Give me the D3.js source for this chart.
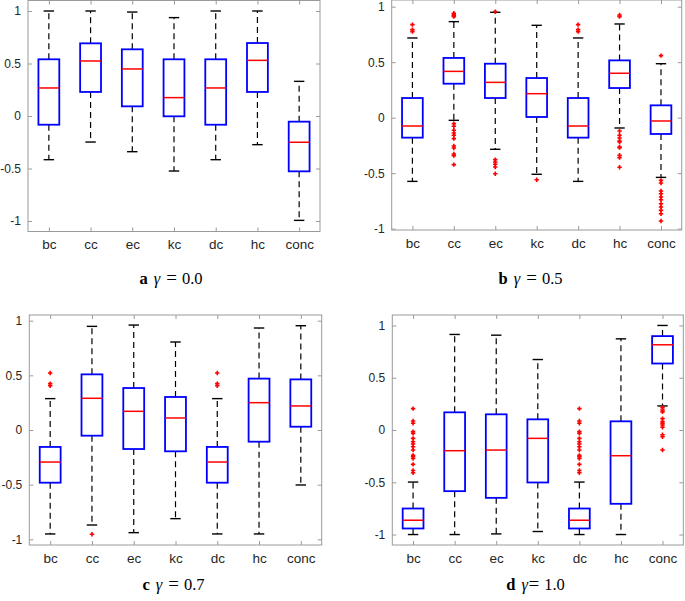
<!DOCTYPE html>
<html><head><meta charset="utf-8">
<script src="https://cdn.jsdelivr.net/npm/d3@7"></script>
<style>html,body{margin:0;padding:0;background:#fff;}svg{display:block;}</style>
</head><body>
<svg id="c" width="685" height="601"></svg>
<script>
const categories = ["bc","cc","ec","kc","dc","hc","conc"];
const yTicks = [-1, -0.5, 0, 0.5, 1];
const yTickLabels = ["-1", "-0.5", "0", "0.5", "1"];

// [lowWhisker, q1, median, q3, highWhisker] per category
const statsA = [[-0.416,-0.083,0.267,0.54,1.0],[-0.248,0.229,0.524,0.692,1.0],[-0.34,0.092,0.448,0.635,0.99],[-0.524,-0.003,0.175,0.54,0.937],[-0.416,-0.083,0.267,0.54,1.0],[-0.273,0.229,0.53,0.695,1.0],[-0.994,-0.527,-0.25,-0.054,0.33]];
const outliersA = [[],[],[],[],[],[],[]];

const statsB = [[-0.574,-0.18,-0.075,0.177,0.718],[-0.024,0.306,0.417,0.538,0.865],[-0.285,0.177,0.318,0.486,0.949],[-0.51,0.006,0.216,0.357,0.832],[-0.574,-0.18,-0.075,0.177,0.718],[-0.093,0.267,0.4,0.516,0.844],[-0.538,-0.147,-0.03,0.111,0.486]];
const outliersB = [[0.838,0.793,0.775],[0.94,0.93,0.92,0.91,-0.054,-0.078,-0.114,-0.138,-0.159,-0.189,-0.255,-0.273,-0.327,-0.342,-0.423],[0.955,-0.378,-0.4,-0.42,-0.444,-0.505],[-0.559],[0.838,0.793,0.775],[0.925,0.91,-0.12,-0.159,-0.183,-0.21,-0.219,-0.264,-0.27,-0.339,-0.36,-0.447],[0.559,-0.565,-0.589,-0.661,-0.685,-0.715,-0.739,-0.775,-0.805,-0.835,-0.865,-0.931]];

const statsC = [[-0.951,-0.482,-0.293,-0.155,0.287],[-0.869,-0.052,0.29,0.509,0.948],[-0.939,-0.174,0.171,0.384,0.96],[-0.811,-0.195,0.11,0.302,0.805],[-0.951,-0.482,-0.293,-0.155,0.287],[-0.951,-0.107,0.25,0.47,0.933],[-0.503,0.03,0.22,0.463,0.954]];
const outliersC = [[0.521,0.424,0.405],[-0.954],[],[],[0.521,0.424,0.405],[],[]];

const statsD = [[-1.0,-0.942,-0.863,-0.751,-0.498],[-1.0,-0.585,-0.198,0.169,0.914],[-0.994,-0.649,-0.192,0.15,0.907],[-0.971,-0.502,-0.08,0.102,0.674],[-1.0,-0.942,-0.863,-0.751,-0.498],[-1.0,-0.706,-0.246,0.083,0.872],[0.23,0.636,0.815,0.898,1.0]];
const outliersD = [[0.204,0.086,0.064,-0.016,-0.032,-0.08,-0.112,-0.134,-0.16,-0.192,-0.243,-0.256,-0.272,-0.329,-0.387,-0.409],[],[],[],[0.204,0.086,0.064,-0.016,-0.032,-0.08,-0.112,-0.134,-0.16,-0.192,-0.243,-0.256,-0.272,-0.329,-0.387,-0.409],[],[0.214,0.192,0.173,0.109,0.08,0.064,0.048,0.026,-0.045,-0.064,-0.192]];

const captionLetters = ["a","b","c","d"];
const captionGamma = ["0.0","0.5","0.7","1.0"];
const captionTight = [false,false,false,true];

const panels = [
  {stats: statsA, out: outliersA, frame:[28,0.5,320,231.5], ylim:[-1.1,1.1], cap:[171,284]},
  {stats: statsB, out: outliersB, frame:[391.7,0,681.7,230], ylim:[-1.012,1.06], cap:[530.5,284]},
  {stats: statsC, out: outliersC, frame:[29.3,315,321.7,545], ylim:[-1.052,1.052], cap:[173.5,590]},
  {stats: statsD, out: outliersD, frame:[392.3,315,683.3,545], ylim:[-1.1,1.1], cap:[535.5,590]}
];

const svg = d3.select("#c");
const axisCol = "#9a9a9a", textCol = "#262626";
const sans = "Liberation Sans, Arial, Helvetica, sans-serif";

panels.forEach((p, pi) => {
  const [l,t,r,b] = p.frame;
  const x = d3.scalePoint().domain(categories).range([l, r]).padding(0.5);
  const y = d3.scaleLinear().domain(p.ylim).range([b, t]);
  const step = x.step();
  const g = svg.append("g");

  g.append("rect").attr("x", l).attr("y", t).attr("width", r-l).attr("height", b-t)
    .attr("fill","none").attr("stroke", axisCol).attr("stroke-width",1);

  const yAx = d3.axisLeft(y).tickValues(yTicks).tickFormat((d,i)=>yTickLabels[i]).tickSizeInner(-4).tickSizeOuter(0).tickPadding(7);
  const ya = g.append("g").attr("transform",`translate(${l},0)`).call(yAx);
  ya.select(".domain").remove();
  ya.selectAll("line").attr("stroke", axisCol);
  ya.selectAll("text").attr("fill", textCol).style("font-family",sans).style("font-size","12px");
  const yR = d3.axisRight(y).tickValues(yTicks).tickFormat("").tickSizeInner(-4).tickSizeOuter(0);
  const yr = g.append("g").attr("transform",`translate(${r},0)`).call(yR);
  yr.select(".domain").remove();
  yr.selectAll("line").attr("stroke", axisCol);

  const xAx = d3.axisBottom(x).tickSizeInner(-4).tickSizeOuter(0).tickPadding(8);
  const xa = g.append("g").attr("transform",`translate(0,${b})`).call(xAx);
  xa.select(".domain").remove();
  xa.selectAll("line").attr("stroke", axisCol);
  xa.selectAll("text").attr("fill", textCol).style("font-family",sans).style("font-size","13.5px");
  const xT = d3.axisTop(x).tickFormat("").tickSizeInner(-4).tickSizeOuter(0);
  const xt = g.append("g").attr("transform",`translate(0,${t})`).call(xT);
  xt.select(".domain").remove();
  xt.selectAll("line").attr("stroke", axisCol);

  const bw = step*0.5, cw = step*0.25;
  categories.forEach((c, i) => {
    const [lo,q1,med,q3,hi] = p.stats[i];
    const cx = x(c);
    g.append("line").attr("x1",cx).attr("x2",cx).attr("y1",y(q3)).attr("y2",y(hi))
      .attr("stroke","#000").attr("stroke-width",1.2).attr("stroke-dasharray","6,4");
    g.append("line").attr("x1",cx).attr("x2",cx).attr("y1",y(q1)).attr("y2",y(lo))
      .attr("stroke","#000").attr("stroke-width",1.2).attr("stroke-dasharray","6,4");
    [lo,hi].forEach(v => g.append("line").attr("x1",cx-cw/2).attr("x2",cx+cw/2).attr("y1",y(v)).attr("y2",y(v))
      .attr("stroke","#000").attr("stroke-width",1.4));
    g.append("rect").attr("x",cx-bw/2).attr("y",y(q3)).attr("width",bw).attr("height",y(q1)-y(q3))
      .attr("fill","none").attr("stroke","#0000ff").attr("stroke-width",1.8);
    g.append("line").attr("x1",cx-bw/2).attr("x2",cx+bw/2).attr("y1",y(med)).attr("y2",y(med))
      .attr("stroke","#ff0000").attr("stroke-width",1.5);
    p.out[i].forEach(v => {
      const yy = y(v), s = 2.2;
      g.append("path").attr("d",`M${cx-s},${yy}H${cx+s}M${cx},${yy-s}V${yy+s}`)
        .attr("stroke","#ff0000").attr("stroke-width",1.6).attr("fill","none");
    });
  });

  const cap = svg.append("text").attr("x", p.cap[0]).attr("y", p.cap[1]).attr("text-anchor","middle")
    .style("font-family","Liberation Serif, Times New Roman, serif").style("font-size","16.5px").attr("fill","#000");
  cap.append("tspan").attr("font-weight","bold").text(captionLetters[pi]);
  cap.append("tspan").attr("dx", 6).attr("font-style","italic").text("γ");
  cap.append("tspan").attr("dx", captionTight[pi] ? 0.5 : 6).style("font-size","19px").text("=");
  cap.append("tspan").attr("dx", 5).text(captionGamma[pi]);
});
</script>
</body></html>
